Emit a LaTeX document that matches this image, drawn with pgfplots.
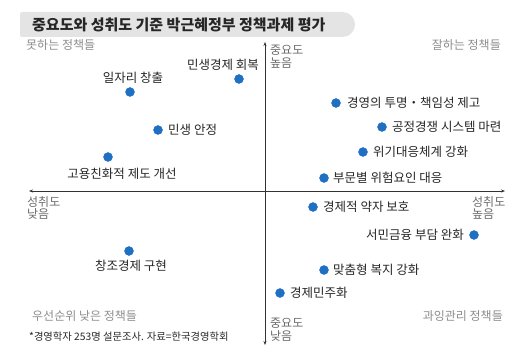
\documentclass[border=0pt]{standalone}
\usepackage{pgfplots}
\pgfplotsset{compat=1.18}
\usepackage{fontspec}
\usetikzlibrary{arrows.meta}
\setmainfont{Noto Sans CJK KR}
\definecolor{dotblue}{HTML}{1F6FC2}
\definecolor{titlegray}{HTML}{E4E4E4}
\definecolor{cornergray}{HTML}{8C8C8C}
\definecolor{axisgray}{HTML}{6A6A6A}
\definecolor{txt}{HTML}{262626}
\begin{document}
\begin{tikzpicture}
\begin{axis}[scale only axis, width=520bp, height=356bp,
  xmin=0, xmax=520, ymin=-356, ymax=0, hide axis, clip=false]
% title box
\fill[titlegray, rounded corners=2bp] (axis cs:20,-12) rectangle (axis cs:330,-37);
\fill[titlegray, rounded corners=12.5bp] (axis cs:290,-12) rectangle (axis cs:355,-37);
\node[anchor=west, inner sep=0pt, text=txt, font=\fontsize{15bp}{17bp}\selectfont\bfseries] at (axis cs:32,-25) {중요도와 성취도 기준 박근혜정부 정책과제 평가};
% axes
\draw[line width=0.6bp, color=black!80, {Stealth[length=4bp,width=3bp]}-{Stealth[length=4bp,width=3bp]}] (axis cs:265,-42) -- (axis cs:265,-345);
\draw[line width=0.6bp, color=black!80, {Stealth[length=4bp,width=3bp]}-{Stealth[length=4bp,width=3bp]}] (axis cs:29,-191) -- (axis cs:505,-191);
% data points
\addplot[only marks, mark=*, mark size=4.5bp, color=dotblue, mark options={draw=dotblue, fill=dotblue}] coordinates {
 (239,-79) (130,-92) (158,-130) (108,-157)
 (336,-103) (382,-127) (363,-152) (324,-178)
 (313,-207) (474,-235) (324,-270) (280,-293)
 (129,-251)
};
\begin{scope}[every node/.style={inner sep=0pt, text=txt, font=\fontsize{12.5bp}{14bp}\selectfont}]
\node[anchor=east] at (axis cs:259,-65) {민생경제 회복};
\node at (axis cs:133,-78) {일자리 창출};
\node[anchor=west] at (axis cs:168,-130) {민생 안정};
\node at (axis cs:122,-174) {고용친화적 제도 개선};
\node[anchor=west] at (axis cs:347,-103) {경영의 투명・책임성 제고};
\node[anchor=west] at (axis cs:392,-127) {공정경쟁 시스템 마련};
\node[anchor=west] at (axis cs:373,-152) {위기대응체계 강화};
\node[anchor=west] at (axis cs:333,-178) {부문별 위험요인 대응};
\node[anchor=west] at (axis cs:323,-207) {경제적 약자 보호};
\node[anchor=east] at (axis cs:464,-235) {서민금융 부담 완화};
\node[anchor=west] at (axis cs:333,-270) {맞춤형 복지 강화};
\node[anchor=west] at (axis cs:290,-293) {경제민주화};
\node at (axis cs:131,-266) {창조경제 구현};
\end{scope}
% axis end labels
\begin{scope}[every node/.style={inner sep=0pt, text=axisgray, font=\fontsize{12bp}{12.5bp}\selectfont, align=left}]
\node[anchor=north west] at (axis cs:270,-45) {중요도\\높음};
\node[anchor=north west] at (axis cs:270,-318) {중요도\\낮음};
\node[anchor=north west] at (axis cs:27,-196) {성취도\\낮음};
\node[anchor=north west] at (axis cs:472,-196) {성취도\\높음};
\end{scope}
% corner labels
\begin{scope}[every node/.style={inner sep=0pt, text=cornergray, font=\fontsize{12bp}{13bp}\selectfont}]
\node[anchor=west] at (axis cs:26,-45) {못하는 정책들};
\node[anchor=east] at (axis cs:501,-45) {잘하는 정책들};
\node[anchor=west] at (axis cs:32,-316) {우선순위 낮은 정책들};
\node[anchor=east] at (axis cs:503,-316) {과잉관리 정책들};
\end{scope}
\node[anchor=west, inner sep=0pt, text=txt, font=\fontsize{10.3bp}{11bp}\selectfont] at (axis cs:29,-337) {*경영학자 253명 설문조사. 자료=한국경영학회};
\end{axis}
\pgfresetboundingbox
\path (current axis.south west) rectangle (current axis.north east);
\end{tikzpicture}
\end{document}
